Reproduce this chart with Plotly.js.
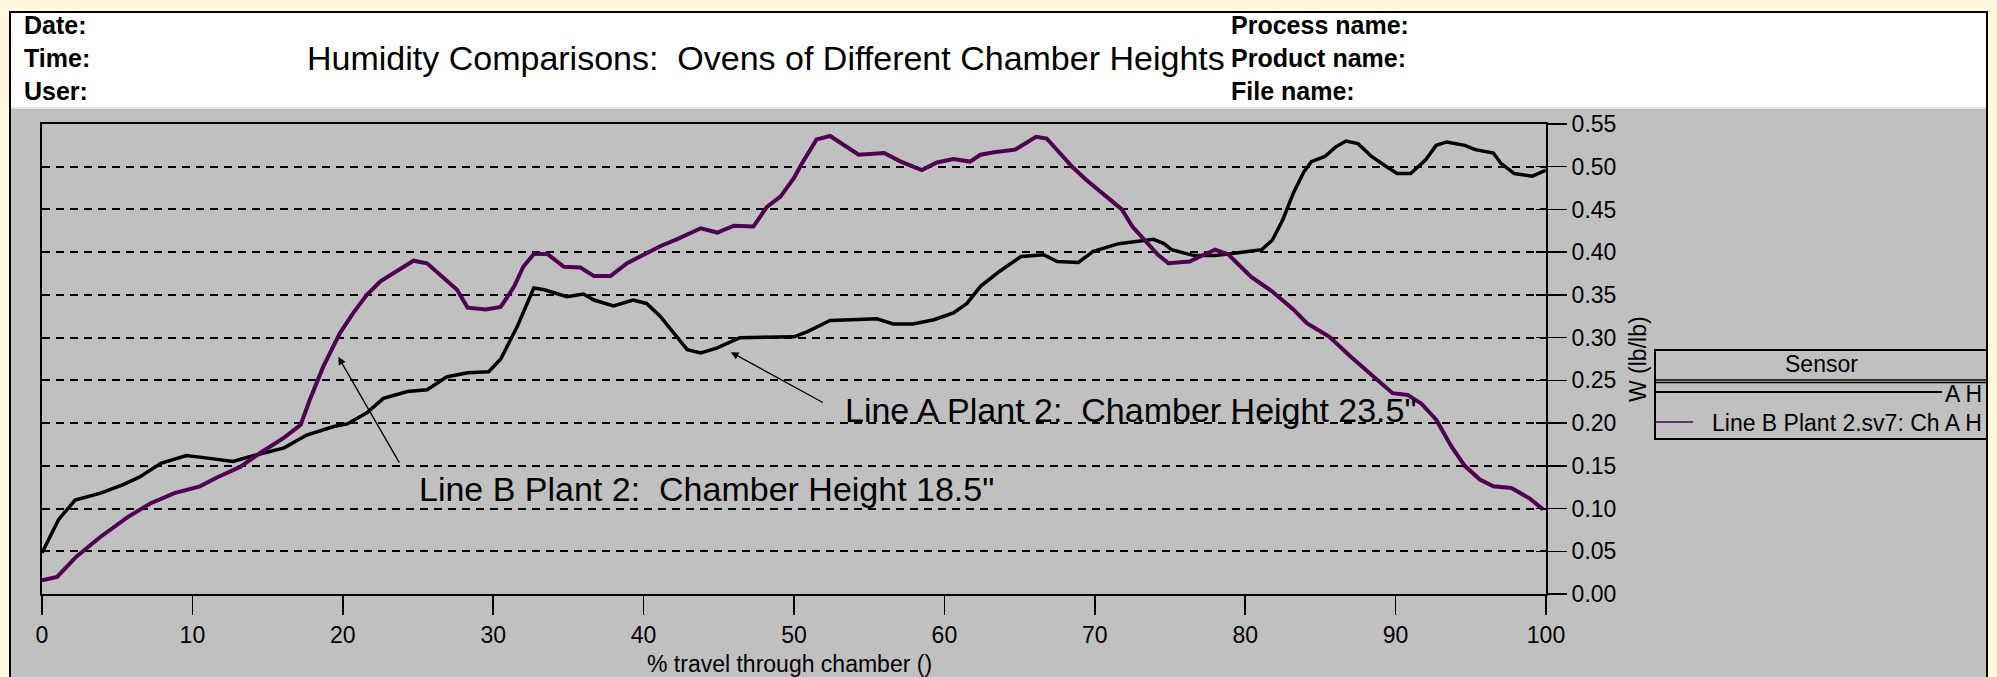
<!DOCTYPE html>
<html>
<head>
<meta charset="utf-8">
<script src="https://cdn.plot.ly/plotly-3.0.1.min.js"></script>
<style>
html,body{margin:0;padding:0;background:#FFF8DF;}
#chart{width:1997px;height:677px;}
</style>
</head>
<body>
<div id="chart"></div>
<script>
// ---- Data ----
const lineA_x = [0,1.1,2.2,3.9,5.4,6.5,7.9,9.6,11.0,12.7,14.1,16.1,17.6,19.4,20.3,21.6,22.7,24.3,25.6,26.9,28.3,29.7,30.5,31.6,32.7,33.4,34.9,36.0,36.7,38.0,39.3,40.2,41.1,42.0,42.9,43.8,44.9,46.4,48.2,50.0,50.9,52.4,53.8,55.5,56.6,57.9,59.3,60.6,61.5,62.4,63.7,65.1,66.6,67.5,68.9,69.9,71.6,73.2,73.9,74.6,75.1,76.6,78.0,79.4,81.1,81.8,82.5,83.2,83.9,84.4,85.3,86.0,86.7,87.5,88.4,89.4,90.1,91.0,92.0,92.7,93.4,94.6,95.3,96.5,97.0,97.9,99.1,100];
const lineA_y = [0.048,0.087,0.110,0.118,0.128,0.137,0.153,0.162,0.159,0.155,0.162,0.171,0.186,0.196,0.199,0.212,0.229,0.237,0.239,0.254,0.259,0.260,0.275,0.313,0.358,0.356,0.348,0.351,0.344,0.337,0.344,0.340,0.325,0.305,0.286,0.282,0.288,0.300,0.301,0.301,0.307,0.320,0.321,0.322,0.316,0.316,0.321,0.329,0.340,0.360,0.378,0.395,0.397,0.389,0.388,0.401,0.410,0.414,0.415,0.410,0.403,0.396,0.396,0.399,0.403,0.414,0.438,0.469,0.494,0.506,0.512,0.523,0.530,0.527,0.512,0.500,0.492,0.492,0.508,0.525,0.529,0.525,0.520,0.516,0.504,0.492,0.489,0.496];

const lineB_x = [0,1.0,2.3,3.9,5.7,7.2,8.8,10.5,11.6,13.2,14.5,16.1,17.2,17.8,18.7,19.8,20.7,21.6,22.5,23.4,24.7,25.6,26.7,27.6,28.3,29.5,30.5,31.4,32.0,32.7,33.6,34.7,35.8,36.7,37.8,38.9,40.0,41.1,42.2,43.8,44.9,46.0,47.3,48.2,49.1,50.0,50.6,51.5,52.4,53.3,54.3,56.0,57.1,58.5,59.5,60.6,61.7,62.4,63.3,64.7,66.1,66.8,67.5,68.5,69.4,70.8,71.8,72.5,73.4,74.2,74.9,76.3,77.0,78.0,78.9,80.4,81.8,83.2,84.1,85.6,87.0,88.2,89.1,89.8,90.8,91.7,92.7,93.7,94.6,95.6,96.5,97.7,98.9,99.8];
const lineB_y = [0.016,0.020,0.044,0.067,0.090,0.106,0.118,0.126,0.136,0.149,0.165,0.183,0.198,0.227,0.266,0.305,0.329,0.350,0.366,0.376,0.390,0.387,0.370,0.356,0.335,0.333,0.336,0.360,0.383,0.398,0.398,0.383,0.382,0.372,0.372,0.387,0.397,0.407,0.415,0.428,0.423,0.431,0.430,0.453,0.465,0.487,0.506,0.532,0.536,0.526,0.514,0.516,0.506,0.496,0.505,0.509,0.506,0.514,0.517,0.520,0.535,0.533,0.520,0.500,0.485,0.465,0.450,0.430,0.412,0.397,0.387,0.389,0.395,0.403,0.397,0.371,0.354,0.333,0.317,0.301,0.278,0.259,0.245,0.235,0.233,0.223,0.204,0.173,0.150,0.134,0.126,0.124,0.112,0.099];

const xTickVals = [0,10,20,30,40,50,60,70,80,90,100];
const yTickVals = [0,0.05,0.10,0.15,0.20,0.25,0.30,0.35,0.40,0.45,0.50,0.55];

const seriesNames = ["A H", "Line B Plant 2.sv7: Ch A H"];
const seriesColors = ["#000000", "#500050"];
const chartTitle = "Humidity Comparisons:  Ovens of Different Chamber Heights";
const xTitle = "% travel through chamber ()";
const yTitle = "W (lb/lb)";
const headerLeft = ["Date:", "Time:", "User:"];
const headerRight = ["Process name:", "Product name:", "File name:"];
const legendTitle = "Sensor";
const noteA = "Line A Plant 2:  Chamber Height 23.5\"";
const noteB = "Line B Plant 2:  Chamber Height 18.5\"";
const arrowA = {x: 45.8, y: 0.283};
const arrowB = {x: 19.7, y: 0.2775};

// ---- layout helpers (pixel -> paper) ----
const W = 1997, H = 677;
const mL = 42, mR = 451, mT = 124, mB = 83;
const pw = W - mL - mR, ph = H - mT - mB;
const PX = X => (X - mL) / pw;
const PY = Y => (H - mB - Y) / ph;
const FONT = "Liberation Sans, Arial, sans-serif";

const traces = [
  {x: lineA_x, y: lineA_y, name: seriesNames[0], type: "scatter", mode: "lines",
   line: {color: seriesColors[0], width: 3.5}},
  {x: lineB_x, y: lineB_y, name: seriesNames[1], type: "scatter", mode: "lines",
   line: {color: seriesColors[1], width: 4}}
];

const shapes = [
  // cream outer border
  {type:"rect", xref:"paper", yref:"paper", x0:PX(0), x1:PX(10), y0:PY(0), y1:PY(H+5), fillcolor:"#FFF8DF", line:{width:0}, layer:"below"},
  {type:"rect", xref:"paper", yref:"paper", x0:PX(0), x1:PX(W), y0:PY(0), y1:PY(12), fillcolor:"#FFF8DF", line:{width:0}, layer:"below"},
  {type:"rect", xref:"paper", yref:"paper", x0:PX(1987), x1:PX(W), y0:PY(0), y1:PY(H+5), fillcolor:"#FFF8DF", line:{width:0}, layer:"below"},
  // white header
  {type:"rect", xref:"paper", yref:"paper", x0:PX(11), x1:PX(1986), y0:PY(13), y1:PY(107), fillcolor:"#FFFFFF", line:{width:0}, layer:"below"},
  {type:"line", xref:"paper", yref:"paper", x0:PX(11), x1:PX(1986), y0:PY(108), y1:PY(108), line:{color:"#E4E4E4", width:2}, layer:"below"},
  // black frame
  {type:"rect", xref:"paper", yref:"paper", x0:PX(10), x1:PX(1987), y0:PY(12), y1:PY(H+10), line:{color:"#000000", width:2}, layer:"above"},
  // legend box
  {type:"rect", xref:"paper", yref:"paper", x0:PX(1655), x1:PX(1987), y0:PY(350), y1:PY(439), line:{color:"#000000", width:2}, layer:"above"},
  {type:"line", xref:"paper", yref:"paper", x0:PX(1655), x1:PX(1987), y0:PY(380), y1:PY(380), line:{color:"#000000", width:1.5}, layer:"above"},
  {type:"line", xref:"paper", yref:"paper", x0:PX(1655), x1:PX(1987), y0:PY(382.5), y1:PY(382.5), line:{color:"#000000", width:1.5}, layer:"above"},
  {type:"line", xref:"paper", yref:"paper", x0:PX(1655), x1:PX(1942), y0:PY(392), y1:PY(392), line:{color:seriesColors[0], width:2}, layer:"above"},
  {type:"line", xref:"paper", yref:"paper", x0:PX(1655), x1:PX(1693), y0:PY(422), y1:PY(422), line:{color:seriesColors[1], width:1.5}, layer:"above"}
];

const annotations = [];
const hdrY = [25, 58, 91];
headerLeft.forEach((t,i) => annotations.push({text:"<b>"+t+"</b>", xref:"paper", yref:"paper", x:PX(22), y:PY(hdrY[i]), xanchor:"left", yanchor:"middle", showarrow:false, font:{family:FONT, size:25, color:"#000"}}));
headerRight.forEach((t,i) => annotations.push({text:"<b>"+t+"</b>", xref:"paper", yref:"paper", x:PX(1229), y:PY(hdrY[i]), xanchor:"left", yanchor:"middle", showarrow:false, font:{family:FONT, size:25, color:"#000"}}));
annotations.push({text:chartTitle, xref:"paper", yref:"paper", x:PX(305), y:PY(58), xanchor:"left", yanchor:"middle", showarrow:false, font:{family:FONT, size:34, color:"#000"}});
// axis titles
annotations.push({text:xTitle, xref:"paper", yref:"paper", x:PX(789), y:PY(664), xanchor:"center", yanchor:"middle", showarrow:false, font:{family:FONT, size:23, color:"#000"}});
annotations.push({text:yTitle, xref:"paper", yref:"paper", x:PX(1638), y:PY(359), xanchor:"center", yanchor:"middle", textangle:-90, showarrow:false, font:{family:FONT, size:23, color:"#000"}});
// legend texts
annotations.push({text:legendTitle, xref:"paper", yref:"paper", x:PX(1821), y:PY(364), xanchor:"center", yanchor:"middle", showarrow:false, font:{family:FONT, size:23, color:"#000"}});
annotations.push({text:seriesNames[0], xref:"paper", yref:"paper", x:PX(1984), y:PY(394), xanchor:"right", yanchor:"middle", showarrow:false, font:{family:FONT, size:23, color:"#000"}});
annotations.push({text:seriesNames[1], xref:"paper", yref:"paper", x:PX(1984), y:PY(423), xanchor:"right", yanchor:"middle", showarrow:false, font:{family:FONT, size:23, color:"#000"}});
// callout texts
annotations.push({text:noteA, xref:"paper", yref:"paper", x:PX(843), y:PY(410), xanchor:"left", yanchor:"middle", showarrow:false, font:{family:FONT, size:34, color:"#000"}});
annotations.push({text:noteB, xref:"paper", yref:"paper", x:PX(417), y:PY(489), xanchor:"left", yanchor:"middle", showarrow:false, font:{family:FONT, size:34, color:"#000"}});
// arrows
annotations.push({text:" ", x:arrowA.x, y:arrowA.y, xref:"x", yref:"y", ax:95, ay:52, showarrow:true, arrowhead:2, arrowsize:1.2, arrowwidth:1.3, arrowcolor:"#000", standoff:0, startstandoff:0});
annotations.push({text:" ", x:arrowB.x, y:arrowB.y, xref:"x", yref:"y", ax:64, ay:111, showarrow:true, arrowhead:2, arrowsize:1.2, arrowwidth:1.3, arrowcolor:"#000", standoff:0, startstandoff:0});

const layout = {
  width: W, height: H,
  margin: {l:mL, r:mR, t:mT, b:mB, pad:0},
  paper_bgcolor: "#C0C0C0",
  plot_bgcolor: "#C0C0C0",
  showlegend: false,
  xaxis: {
    range:[0,100], tickvals:xTickVals, ticktext:xTickVals.map(String),
    ticks:"outside", ticklen:19, tickwidth:1.5, tickcolor:"#000",
    showline:true, linecolor:"#000", linewidth:2, mirror:true,
    showgrid:false, zeroline:false,
    tickfont:{family:FONT, size:23, color:"#000"}
  },
  yaxis: {
    range:[0,0.55], tickvals:yTickVals, ticktext:yTickVals.map(v=>v.toFixed(2)),
    side:"right", ticks:"outside", ticklen:19, tickwidth:1.5, tickcolor:"#000",
    showline:true, linecolor:"#000", linewidth:2, mirror:true,
    showgrid:true, gridcolor:"#000", gridwidth:2, griddash:"8px,6px",
    zeroline:false,
    tickfont:{family:FONT, size:23, color:"#000"}
  },
  yaxis2: {
    overlaying:"y", matches:"y", side:"right", range:[0,0.55], tickvals:yTickVals,
    ticks:"inside", ticklen:10, tickwidth:1.5, tickcolor:"#000",
    showticklabels:false, showgrid:false, zeroline:false, showline:false
  },
  shapes: shapes,
  annotations: annotations
};
traces.push({x:[0], y:[0], yaxis:"y2", mode:"markers", marker:{opacity:0}, hoverinfo:"skip", showlegend:false});

Plotly.newPlot("chart", traces, layout, {staticPlot:true, displayModeBar:false});
</script>
</body>
</html>
